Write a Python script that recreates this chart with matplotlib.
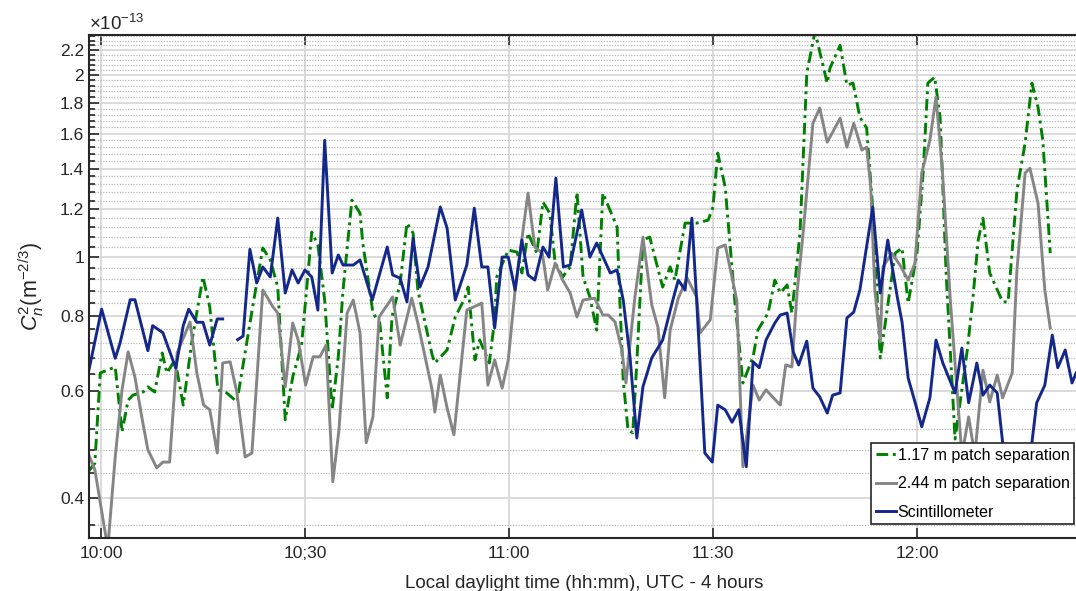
import numpy as np
import matplotlib
matplotlib.use("Agg")
import matplotlib.pyplot as plt
from matplotlib.ticker import MultipleLocator, FixedLocator, NullFormatter

plt.rcParams['font.family'] = ['Liberation Sans', 'DejaVu Sans']
plt.rcParams['mathtext.fontset'] = 'custom'
plt.rcParams['mathtext.rm'] = 'Liberation Sans'
plt.rcParams['mathtext.it'] = 'Liberation Sans:italic'

# time in minutes after 10:00 local, Cn2 in units of 1e-13 m^-2/3
t_117 = [-1.9,-0.9,-0.1,2.1,3.1,4.0,4.7,6.2,6.9,7.9,9.0,9.7,10.9,12.1,13.4,15.0,16.0,17.2,18.5,20.0,
         22.4,23.8,24.9,26.0,27.1,28.2,29.5,31.0,31.9,32.9,34.0,34.9,35.6,36.9,38.1,38.5,40.0,41.0,42.1,42.8,
         44.0,45.0,45.9,46.6,48.7,49.1,50.9,52.1,53.5,54.0,55.0,55.7,57.1,57.9,58.2,59.9,61.2,61.9,62.8,64.1,
         65.0,66.0,66.8,67.9,69.0,70.0,70.9,71.9,72.9,73.8,75.9,76.3,76.8,77.5,78.2,78.8,79.7,80.7,82.6,83.7,
         84.4,85.9,87.6,89.3,90.0,90.7,91.8,93.2,94.4,95.9,96.6,98.1,99.1,99.9,100.9,101.6,102.8,103.8,105.0,106.8,
         107.2,108.7,109.7,110.6,111.6,112.6,113.4,114.1,114.6,116.8,117.8,118.7,120.0,120.9,121.6,122.6,123.4,124.3,125.6,127.4,
         128.2,129.0,129.7,130.7,132.6,133.4,134.7,135.9,136.9,137.8,138.5,139.6]
c_117 = [0.441,0.456,0.643,0.658,0.514,0.580,0.591,0.598,0.610,0.598,0.694,0.643,0.676,0.569,0.729,0.927,0.827,0.603,0.596,0.576,
         0.839,1.035,0.989,0.892,0.538,0.633,0.715,1.10,1.047,0.849,0.559,0.684,0.882,1.242,1.182,1.055,0.808,0.778,0.585,0.796,
         0.906,1.138,1.096,0.882,0.689,0.668,0.702,0.796,0.855,0.892,0.676,0.729,0.668,0.787,0.927,1.027,1.019,0.941,1.096,1.015,
         1.233,1.182,0.977,0.927,0.963,1.28,0.927,0.859,0.757,1.276,1.121,0.849,0.626,0.518,0.512,0.668,1.067,1.079,0.892,0.963,
         0.916,1.138,1.138,1.151,1.21,1.486,1.305,0.849,0.619,0.684,0.757,0.808,0.916,0.872,0.899,0.808,1.096,2.014,2.36,1.94,
         2.053,2.24,1.925,1.94,1.704,1.634,1.242,0.882,0.681,1.015,1.035,0.839,1.015,1.377,1.94,1.984,1.704,0.934,0.50,0.702,
         0.849,1.067,1.16,0.941,0.843,0.843,1.29,1.543,1.94,1.77,1.561,1.015]

t_244 = [-1.9,-0.9,1.0,2.1,3.1,4.0,5.0,6.0,6.9,8.2,9.1,10.1,11.2,13.1,14.1,15.1,16.0,17.1,17.9,19.0,
         20.0,21.2,22.2,23.8,25.3,26.0,27.1,28.2,29.0,30.1,31.2,32.2,33.1,34.1,35.0,36.2,37.1,38.1,39.0,40.0,
         40.9,42.9,44.0,45.7,46.6,48.7,49.1,49.9,50.9,51.9,53.8,56.0,56.9,57.9,59.0,59.9,60.9,62.8,63.8,64.9,
         65.7,66.8,67.9,69.0,70.0,70.9,72.6,73.8,74.6,75.6,76.6,77.2,78.5,79.7,81.0,81.9,82.9,83.7,84.9,86.2,
         87.6,88.1,89.6,90.7,91.8,93.5,94.4,95.9,96.8,97.8,99.9,100.7,101.6,102.4,103.2,104.7,105.7,106.8,108.7,109.7,
         110.7,111.9,112.6,113.2,113.8,114.6,115.0,116.3,117.5,118.7,119.7,120.7,121.9,122.8,123.7,124.9,126.6,127.6,128.5,129.7,
         130.7,131.8,132.6,134.0,134.7,135.9,136.6,137.8,138.8,139.6]
c_244 = [0.474,0.445,0.33,0.467,0.603,0.697,0.633,0.544,0.480,0.448,0.458,0.458,0.694,0.781,0.643,0.569,0.559,0.474,0.668,0.671,
         0.596,0.467,0.474,0.882,0.827,0.808,0.610,0.778,0.729,0.614,0.684,0.684,0.715,0.425,0.518,0.808,0.849,0.749,0.493,0.544,
         0.796,0.859,0.715,0.855,0.778,0.603,0.554,0.638,0.563,0.508,0.817,0.839,0.614,0.676,0.607,0.676,0.882,1.276,1.039,1.015,
         0.882,0.977,0.916,0.872,0.796,0.849,0.855,0.802,0.802,0.781,0.702,0.619,0.855,1.079,0.833,0.766,0.585,0.757,0.855,0.923,
         0.859,0.749,0.787,1.035,1.047,0.849,0.450,0.614,0.580,0.603,0.569,0.663,0.658,0.882,1.079,1.665,1.764,1.549,1.697,1.52,
         1.665,1.503,1.52,1.305,0.882,0.724,0.963,1.015,0.970,0.916,0.977,1.377,1.561,1.839,1.409,0.849,0.47,0.544,0.47,0.650,
         0.576,0.638,0.585,0.643,0.952,1.377,1.403,1.228,0.882,0.763]

t_sc = [-1.9,0.1,2.1,2.8,4.3,5.0,6.9,7.6,9.1,11.0,12.1,12.9,14.1,15.0,16.0,17.1,17.9,19.0,20.1,20.9,
        21.9,22.9,23.8,24.9,26.0,27.1,28.1,29.0,30.0,31.0,31.9,32.9,34.0,34.9,35.6,37.1,38.1,39.9,42.1,42.9,
        44.0,45.0,45.9,46.9,48.1,49.9,50.9,52.1,53.8,54.9,56.0,56.9,57.9,59.0,59.9,60.9,61.9,62.8,63.8,65.0,
        65.9,66.9,68.0,69.0,70.7,71.9,72.9,74.9,75.9,76.8,77.8,78.8,79.7,81.0,82.6,84.1,84.9,85.9,86.9,87.6,
        88.8,89.9,90.7,91.8,92.8,93.8,94.9,95.9,96.8,97.8,99.1,99.9,100.9,101.8,102.6,103.8,104.7,105.7,106.8,107.6,
        108.7,109.7,110.7,111.6,113.5,114.6,115.7,117.1,117.8,118.7,119.7,120.7,121.9,122.8,123.8,125.6,126.6,127.6,128.8,129.7,
        130.7,131.8,132.6,134.4,135.9,136.9,137.6,138.8,139.9,140.7,141.8,142.8,143.4]
c_sc = [0.64,0.82,0.68,0.72,0.85,0.85,0.70,0.77,0.75,0.655,0.77,0.82,0.78,0.78,0.715,0.79,0.79,np.nan,0.73,0.74,
        1.03,0.906,0.963,0.927,1.16,0.872,0.952,0.906,0.952,0.927,0.817,1.56,0.941,1.008,0.97,0.97,0.989,0.849,1.039,0.934,
        0.923,0.843,1.075,0.892,0.963,1.21,1.117,0.849,0.97,1.205,0.963,0.963,0.763,1.0,1.0,0.882,1.067,0.934,0.916,1.039,
        1.0,1.351,0.963,0.97,1.196,1.0,1.055,0.941,0.952,0.849,0.684,0.502,0.610,0.681,0.729,0.849,0.916,0.882,1.16,0.849,
        0.474,0.458,0.569,0.559,0.533,0.559,0.450,0.671,0.656,0.729,0.778,0.802,0.808,0.697,0.663,0.726,0.607,0.587,0.552,0.591,
        0.596,0.793,0.811,0.882,1.21,0.872,1.067,0.859,0.781,0.631,0.576,0.524,0.585,0.729,0.668,0.596,0.707,0.574,0.668,0.591,
        0.614,0.596,0.493,0.43,0.43,0.493,0.574,0.614,0.743,0.656,0.702,0.619,0.643]

xticks = [0, 30, 60, 90, 120]
xticklabels = ['10:00', '10;30', '11:00', '11:30', '12:00']
yticks = [0.4, 0.6, 0.8, 1, 1.2, 1.4, 1.6, 1.8, 2, 2.2]
labels = ['1.17 m patch separation', '2.44 m patch separation', 'Scintillometer']

fig = plt.figure(figsize=(10.76, 5.91), dpi=100)
ax = fig.add_axes([0.0827, 0.0897, 0.9210, 0.8511])

ax.plot(t_117, c_117, color='#008000', lw=2.1, ls=(0, (4, 1.6, 1, 1.6)), label=labels[0])
ax.plot(t_244, c_244, color='#858585', lw=2.1, label=labels[1])
ax.plot(t_sc, c_sc, color='#14288c', lw=2.1, label=labels[2])

ax.set_yscale('log')
ax.set_ylim(0.343, 2.33)
ax.set_xlim(-1.76, 143.97)

ax.yaxis.set_major_locator(FixedLocator(yticks))
ax.set_yticklabels(['%g' % v for v in yticks])
ax.yaxis.set_minor_locator(MultipleLocator(0.04))
ax.yaxis.set_minor_formatter(NullFormatter())
ax.set_xticks(xticks)
ax.set_xticklabels(xticklabels)

ax.tick_params(axis='both', which='major', direction='in', length=7, width=1.2,
               labelsize=12.5, colors='#262626', labelcolor='#262626')
ax.tick_params(axis='x', which='major', pad=6)
ax.tick_params(axis='y', which='minor', direction='in', length=4.5, width=1.2, colors='#262626')
ax.tick_params(axis='x', which='both', top=True)
ax.tick_params(axis='y', which='both', right=False)

# grid: solid major, dotted minor
ax.grid(True, which='major', axis='both', color='#d8d8d8', lw=1.3, ls='-')
ax.grid(True, which='minor', axis='y', color='#bcbcbc', lw=0.9, ls=(0, (1, 1.2)))
ax.set_axisbelow(True)

for s in ['left', 'bottom', 'top']:
    ax.spines[s].set_linewidth(1.5)
    ax.spines[s].set_color('#262626')
ax.spines['right'].set_visible(False)

ax.set_xlabel('Local daylight time (hh:mm), UTC - 4 hours', fontsize=13.5, color='#262626', labelpad=10)
ax.set_ylabel(r'$C_n^2$(m$^{-2/3}$)', fontsize=15.5, color='#262626', labelpad=10)
fig.text(0.0827, 0.950, r'$\times$10$^{-13}$', fontsize=13.5, color='#262626', ha='left', va='baseline')

leg = ax.legend(loc='upper left', bbox_to_anchor=(871/1076, 1-443/591), bbox_transform=fig.transFigure,
                fontsize=11.5, frameon=True, fancybox=False, framealpha=1, edgecolor='#262626',
                handlelength=1.25, handletextpad=0.12, labelspacing=0.84, borderpad=0.3, borderaxespad=0)
leg.get_frame().set_linewidth(1.2)

fig.savefig('out.png', dpi=100)
